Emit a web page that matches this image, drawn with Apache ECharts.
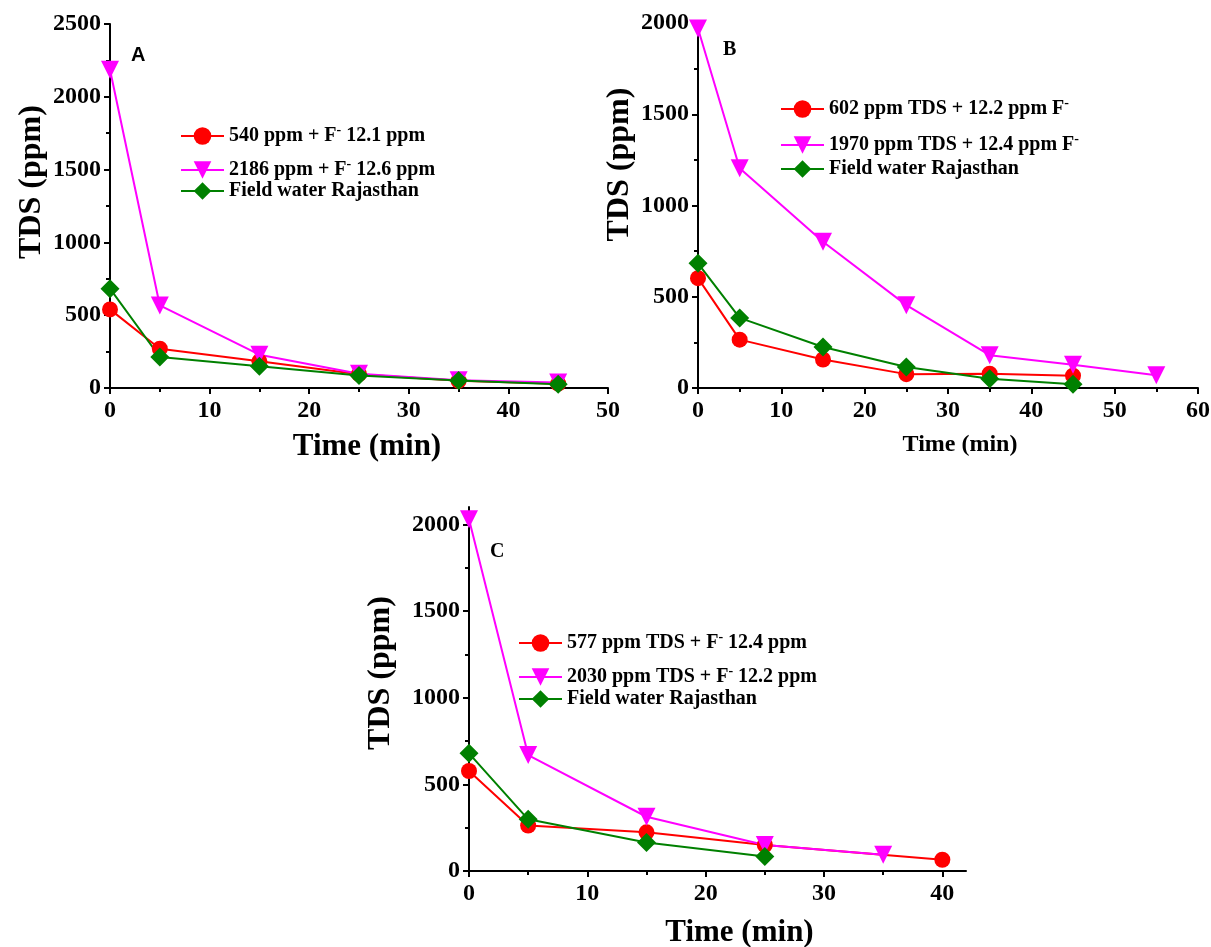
<!DOCTYPE html>
<html><head><meta charset="utf-8">
<script src="https://cdn.jsdelivr.net/npm/echarts@6/dist/echarts.min.js"></script>
<style>html,body{margin:0;padding:0;background:#fff}#c{width:1211px;height:947px}</style>
</head><body><div id="c"></div>
<script>
// ---- data ----
const namesA = ['540 ppm + F- 12.1 ppm', '2186 ppm + F- 12.6 ppm', 'Field water Rajasthan'];
const namesB = ['602 ppm TDS + 12.2 ppm F-', '1970 ppm TDS + 12.4 ppm F-', 'Field water Rajasthan '];
const namesC = ['577 ppm TDS + F- 12.4 ppm', '2030 ppm TDS + F- 12.2 ppm', 'Field water Rajasthan  '];

const timeA = [0, 5, 15, 25, 35, 45];
const redA = [540, 270, 183, 95, 50, 30];
const magA = [2186, 567, 229, 98, 53, 38];
const grnA = [682, 213, 150, 86, 52, 25];

const timeB = [0, 5, 15, 25, 35, 45];
const timeBmag = [0, 5, 15, 25, 35, 45, 55];
const redB = [602, 265, 156, 76, 78, 67];
const magB = [1970, 1204, 801, 454, 180, 128, 70];
const grnB = [683, 384, 225, 115, 51, 20];

const timeCred = [0, 5, 15, 25, 40];
const timeCmag = [0, 5, 15, 25, 35];
const timeCgrn = [0, 5, 15, 25];
const redC = [577, 262, 223, 150, 65];
const magC = [2030, 669, 313, 150, 94];
const grnC = [679, 298, 165, 83];

const yTicksA = {min: 0, max: 2500, interval: 500};
const yTicksB = {min: 0, max: 2000, interval: 500};
const yTicksC = {min: 0, max: 2100, interval: 500, values: [0, 500, 1000, 1500, 2000]};
const xTicksA = {min: 0, max: 50, interval: 10};
const xTicksB = {min: 0, max: 60, interval: 10};
const xTicksC = {min: 0, max: 42, interval: 10, values: [0, 10, 20, 30, 40]};

// ---- styling ----
const SERIF = '"Liberation Serif", "Times New Roman", serif';
const RED = '#ff0000', MAG = '#ff00ff', GRN = '#008000';
const pair = (xs, ys) => ys.map((v, i) => [xs[i], v]);
const plain = v => String(v);

function tickParts(t, labelMargin) {
  const tick = {show: true, length: 6, lineStyle: {color: '#000', width: 2}};
  const label = {fontFamily: SERIF, fontWeight: 'bold', fontSize: 24, color: '#000', margin: labelMargin, formatter: plain};
  if (t.values) { tick.customValues = t.values; label.customValues = t.values; }
  return {tick, label};
}
function xAx(idx, t, nameSize, padL, gap) {
  const p = tickParts(t, 11);
  return {
    type: 'value', gridIndex: idx, min: t.min, max: t.max, interval: t.interval,
    name: 'Time (min)', nameLocation: 'middle', nameGap: gap,
    nameTextStyle: {fontFamily: SERIF, fontWeight: 'bold', fontSize: nameSize, color: '#000', padding: [0, 0, 0, padL]},
    axisLine: {show: true, onZero: false, lineStyle: {color: '#000', width: 2}},
    axisTick: p.tick,
    minorTick: {show: true, splitNumber: 2, length: 4, lineStyle: {color: '#000', width: 2}},
    axisLabel: p.label,
    splitLine: {show: false}, minorSplitLine: {show: false}
  };
}
function yAx(idx, t, padL, gap) {
  const p = tickParts(t, 9);
  return {
    type: 'value', gridIndex: idx, min: t.min, max: t.max, interval: t.interval,
    name: 'TDS (ppm)', nameLocation: 'middle', nameGap: gap,
    nameTextStyle: {fontFamily: SERIF, fontWeight: 'bold', fontSize: 32, color: '#000', padding: [0, 0, 0, padL]},
    axisLine: {show: true, onZero: false, lineStyle: {color: '#000', width: 2}},
    axisTick: p.tick,
    minorTick: {show: true, splitNumber: 2, length: 4, lineStyle: {color: '#000', width: 2}},
    axisLabel: p.label,
    splitLine: {show: false}, minorSplitLine: {show: false}
  };
}
function ser(name, idx, data, color, symbol, size, rotate) {
  return {
    name, type: 'line', xAxisIndex: idx, yAxisIndex: idx, data,
    symbol, symbolSize: size, symbolRotate: rotate || 0, clip: false,
    lineStyle: {color, width: 2}, itemStyle: {color}, animation: false
  };
}
const legTextStyle = {
  fontFamily: SERIF, fontWeight: 'bold', fontSize: 20, color: '#000',
  rich: {sup: {fontFamily: SERIF, fontWeight: 'bold', fontSize: 14, color: '#000', verticalAlign: 'top', padding: [0, 0, 12, 0]}}
};
function leg(name, left, cy) {
  return {
    data: [name], left, top: cy - 11, orient: 'horizontal', padding: 0,
    itemWidth: 43, itemHeight: 22, itemGap: 0, selectedMode: false,
    textStyle: legTextStyle,
    formatter: n => n.trim().replace('F-', 'F{sup|-}')
  };
}
function panelLabel(text, left, top, fam) {
  return {text, left, top, textStyle: {fontFamily: fam, fontWeight: 'bold', fontSize: 20, color: '#000'}};
}

const chart = echarts.init(document.getElementById('c'), null, {renderer: 'canvas'});
chart.setOption({
  backgroundColor: '#fff',
  animation: false,
  title: [
    panelLabel('A', 126, 40, '"Liberation Sans", Arial, sans-serif'),
    panelLabel('B', 718, 35, SERIF),
    panelLabel('C', 485, 537, SERIF)
  ],
  grid: [
    {left: 110, top: 24, width: 498, height: 364, outerBoundsMode: 'none', containLabel: false},
    {left: 698, top: 23, width: 500, height: 365, outerBoundsMode: 'none', containLabel: false},
    {left: 469, top: 507, width: 497, height: 364, outerBoundsMode: 'none', containLabel: false}
  ],
  xAxis: [
    xAx(0, xTicksA, 31, 16, 43),
    xAx(1, xTicksB, 24, 24, 45),
    xAx(2, xTicksC, 31, 44, 46)
  ],
  yAxis: [
    yAx(0, yTicksA, 48, 62),
    yAx(1, yTicksB, 82, 62),
    yAx(2, yTicksC, 32, 72)
  ],
  legend: [
    leg(namesA[0], 180, 134), leg(namesA[1], 180, 168), leg(namesA[2], 180, 192),
    leg(namesB[0], 780, 107), leg(namesB[1], 780, 143), leg(namesB[2], 780, 170),
    leg(namesC[0], 518, 641), leg(namesC[1], 518, 675), leg(namesC[2], 518, 700)
  ],
  series: [
    ser(namesA[0], 0, pair(timeA, redA), RED, 'circle', 16),
    ser(namesA[1], 0, pair(timeA, magA), MAG, 'triangle', 18, 180),
    ser(namesA[2], 0, pair(timeA, grnA), GRN, 'diamond', 19),
    ser(namesB[0], 1, pair(timeB, redB), RED, 'circle', 16),
    ser(namesB[1], 1, pair(timeBmag, magB), MAG, 'triangle', 18, 180),
    ser(namesB[2], 1, pair(timeB, grnB), GRN, 'diamond', 19),
    ser(namesC[0], 2, pair(timeCred, redC), RED, 'circle', 16),
    ser(namesC[1], 2, pair(timeCmag, magC), MAG, 'triangle', 18, 180),
    ser(namesC[2], 2, pair(timeCgrn, grnC), GRN, 'diamond', 19)
  ]
});
</script></body></html>
